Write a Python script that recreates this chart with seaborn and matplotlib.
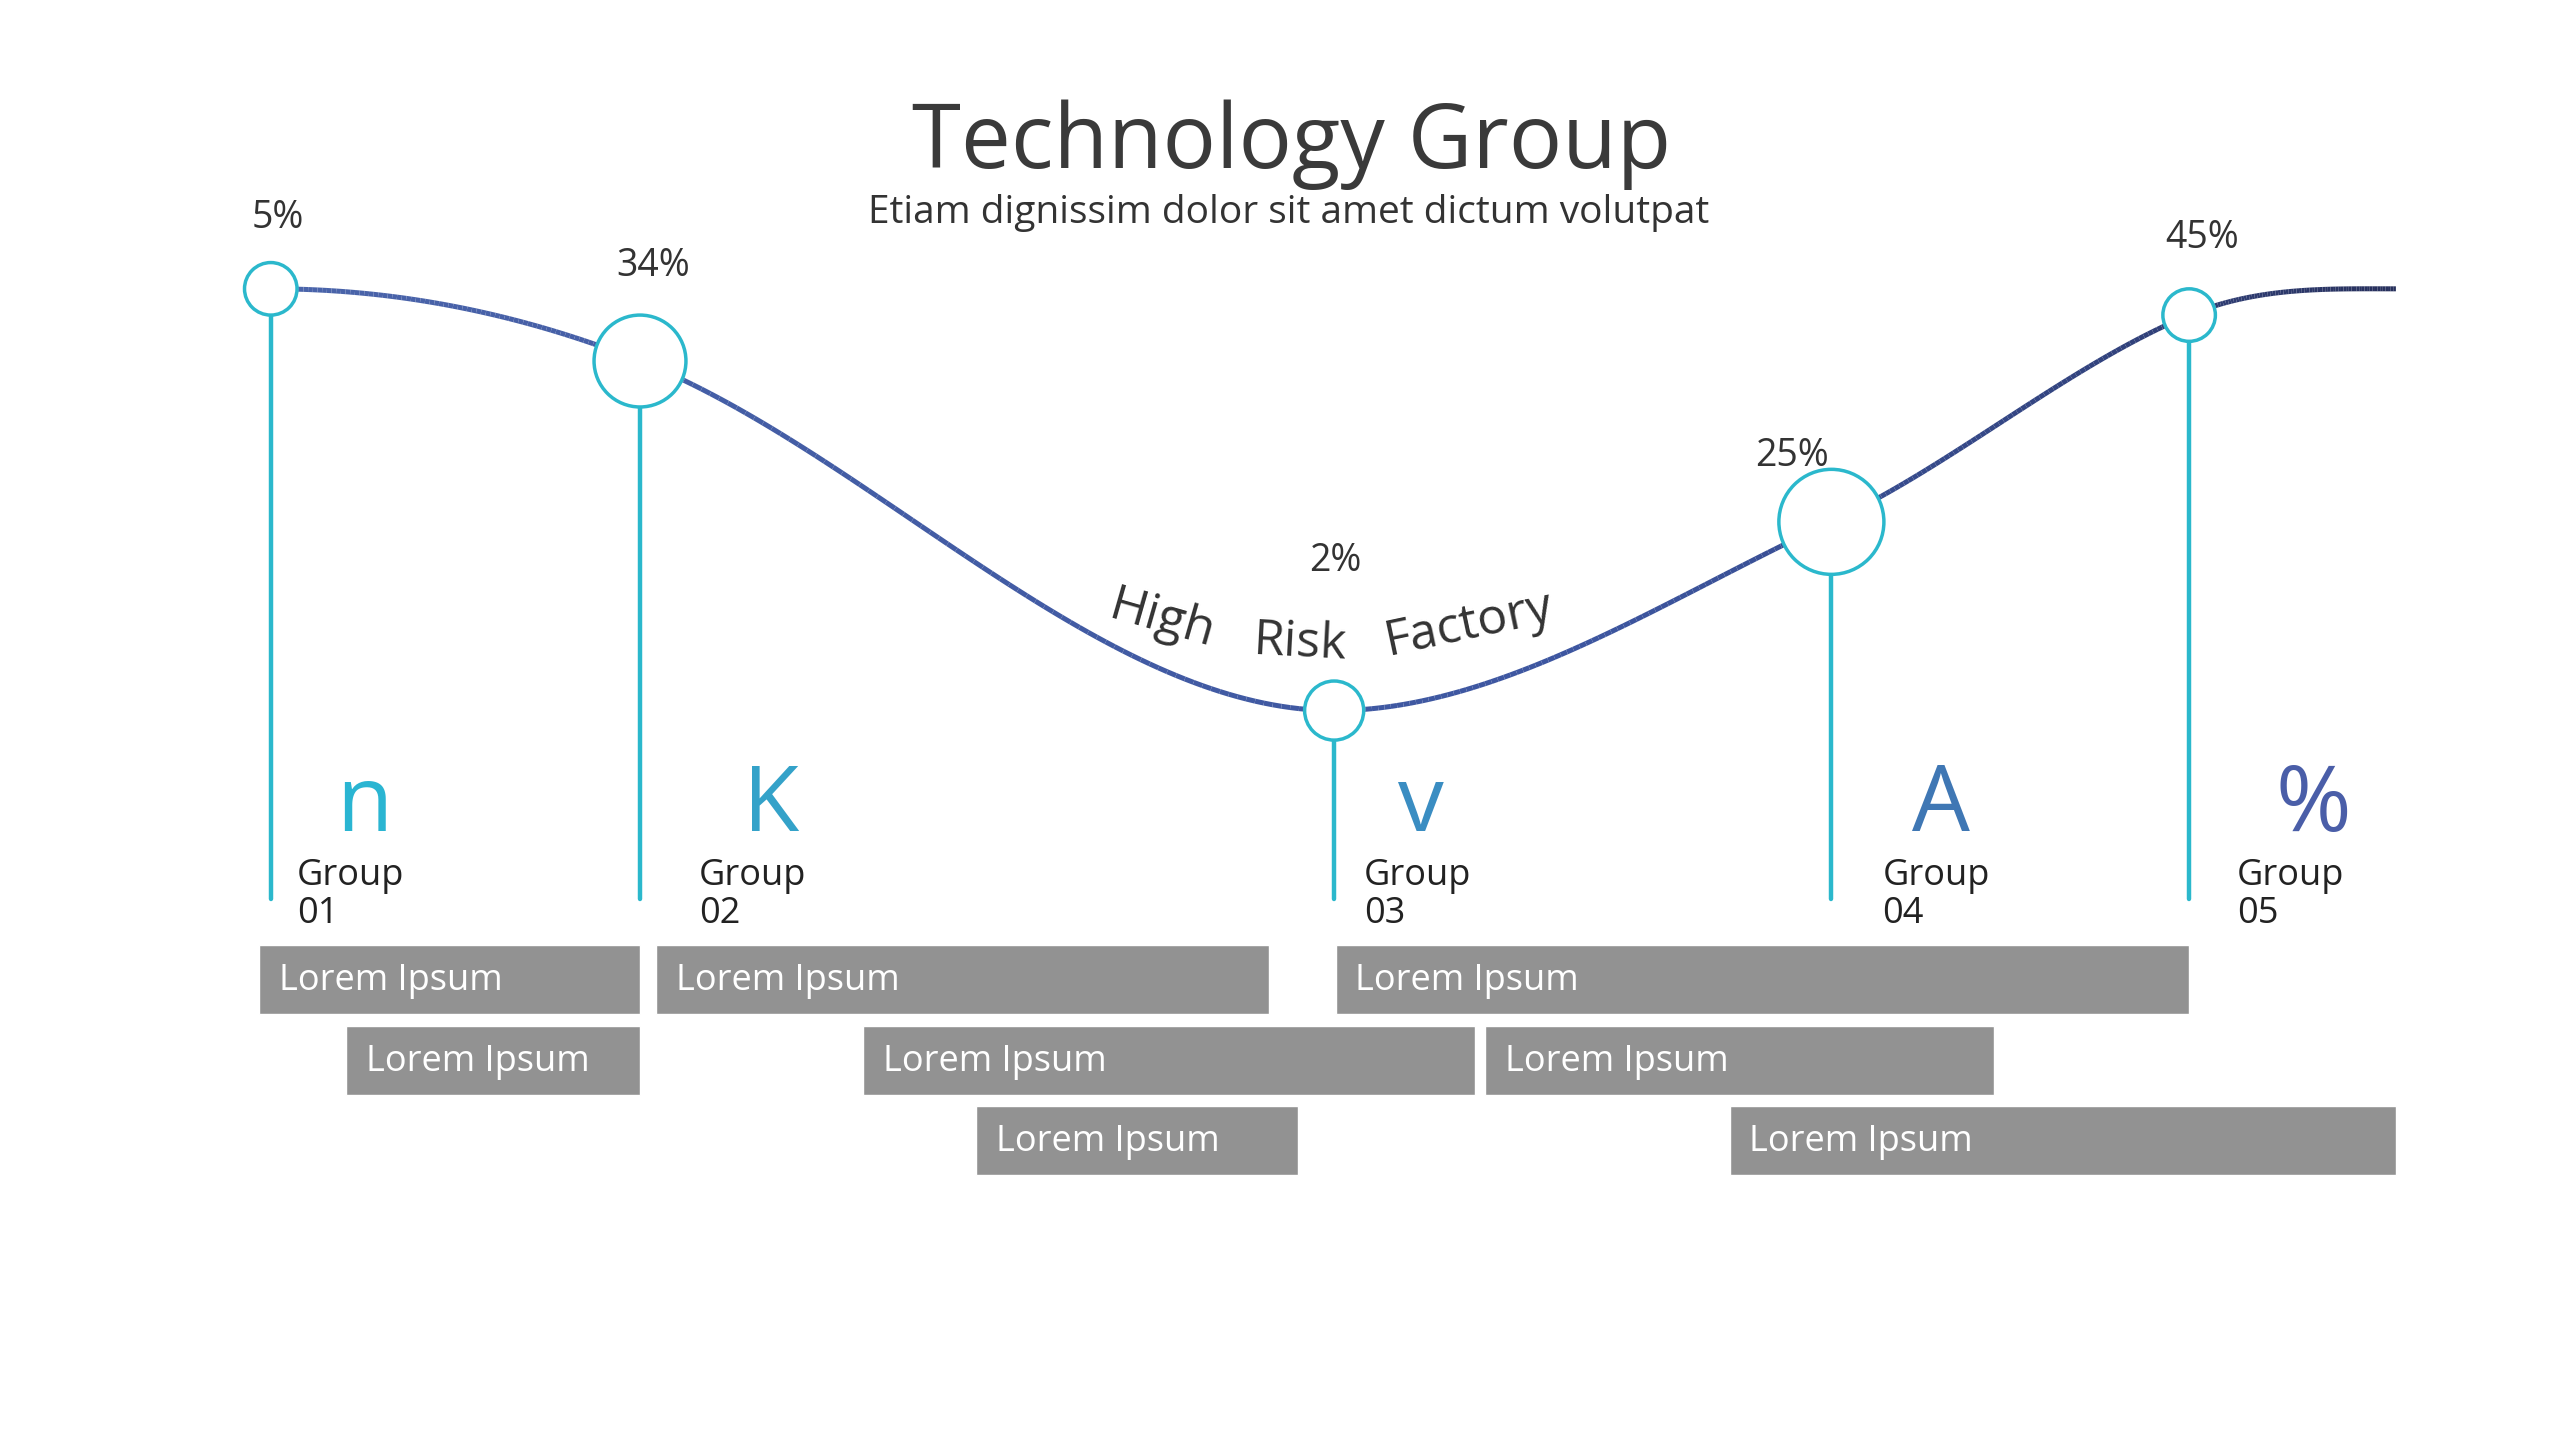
import numpy as np
import matplotlib
matplotlib.use("Agg")
import matplotlib.pyplot as plt
import seaborn as sns
import pandas as pd
from matplotlib.patches import Circle
from matplotlib.collections import LineCollection
from matplotlib.colors import LinearSegmentedColormap

# ---- data ----
groups = ["Group\n01", "Group\n02", "Group\n03", "Group\n04", "Group\n05"]
percents = ["5%", "34%", "2%", "25%", "45%"]
icons = ["n", "K", "v", "A", "%"]
point_x = [165, 390, 813, 1116, 1334]
point_y = [176, 220, 433, 318, 192]
radius = [16, 28, 18, 32, 16]
curve_end = (1460, 176)
bar_labels = ["Lorem Ipsum"] * 8
bar_left = [158, 400, 814, 211, 526, 905, 595, 1054]
bar_right = [390, 773, 1334, 390, 899, 1215, 791, 1460]
bar_row = [0, 0, 0, 1, 1, 1, 2, 2]

sns.set_theme(style="white")
plt.rcParams['font.family'] = ['Open Sans', 'DejaVu Sans']

fig = plt.figure(figsize=(25.6, 14.4), dpi=100)
ax = fig.add_axes([0, 0, 1, 1])
ax.set_xlim(0, 1560)
ax.set_ylim(877.5, 0)
ax.axis('off')

# smooth curve (cubic Hermite through points, flat tangents at extremes)
kx = point_x + [curve_end[0]]
ky = point_y + [curve_end[1]]
slopes = [0, None, 0, None, None, 0]
for i in range(len(kx)):
    if slopes[i] is None:
        slopes[i] = (ky[i+1]-ky[i-1])/(kx[i+1]-kx[i-1])
xs, ys = [], []
for i in range(len(kx)-1):
    h = kx[i+1]-kx[i]
    t = np.linspace(0, 1, 80)
    h00 = 2*t**3-3*t**2+1; h10 = t**3-2*t**2+t; h01 = -2*t**3+3*t**2; h11 = t**3-t**2
    xs.extend(kx[i]+t*h); ys.extend(h00*ky[i]+h10*h*slopes[i]+h01*ky[i+1]+h11*h*slopes[i+1])
xs = np.array(xs); ys = np.array(ys)
pts = np.column_stack([xs, ys]).reshape(-1, 1, 2)
segs = np.concatenate([pts[:-1], pts[1:]], axis=1)
cmap = LinearSegmentedColormap.from_list("c", ["#4a64aa", "#3d56a0", "#27305c"])
lc = LineCollection(segs, cmap=cmap, linewidth=3.6, zorder=2)
lc.set_array(np.linspace(0, 1, len(segs)))
ax.add_collection(lc)

cyan = "#2bb8cc"
for x, y, r, p in zip(point_x, point_y, radius, percents):
    ax.add_patch(Circle((x, y), r, facecolor="white", edgecolor=cyan, lw=2.5, zorder=3))
    ax.plot([x, x], [y + r, 548], color=cyan, lw=3.2, zorder=1)
label_pos = [(169, 133), (398, 162), (814, 342), (1092, 278), (1342, 145)]
for (lx, ly), p in zip(label_pos, percents):
    ax.text(lx, ly, p, fontsize=27, color="#333333", ha="center", va="center")

icon_colors = ["#2ab5d2", "#34a2c9", "#3a8dc2", "#3f77b4", "#4a5ea8"]
icon_x = [222, 470, 866, 1183, 1410]
group_x = [181, 426, 831, 1147, 1363]
for ix, gx, ic, g, c in zip(icon_x, group_x, icons, groups, icon_colors):
    ax.text(ix, 492, ic, fontsize=66, color=c, ha="center", va="center")
    ax.text(gx, 523, g, fontsize=26, color="#222222", ha="left", va="top", linespacing=1.05)

# bars
df = pd.DataFrame({"left": bar_left, "right": bar_right, "row": bar_row, "label": bar_labels})
row_y = [597, 646, 695]
for _, r in df.iterrows():
    y = row_y[r["row"]]
    ax.barh(y, r["right"] - r["left"], left=r["left"], height=42, color="#929292", zorder=4)
    ax.text(r["left"] + 12, y + 1, r["label"], fontsize=26, color="white", va="center", ha="left", zorder=5)

ax.text(787, 88, "Technology Group", fontsize=64, color="#3a3a3a", ha="center", va="center")
ax.text(785, 130, "Etiam dignissim dolor sit amet dictum volutpat", fontsize=28, color="#333333", ha="center", va="center")

for w, (x, y, rot) in zip(["High", "Risk", "Factory"], [(708, 378, -16), (792, 392, -3), (895, 381, 12)]):
    ax.text(x, y, w, fontsize=36, color="#333333", ha="center", va="center", rotation=rot)

fig.savefig("out.png", dpi=100, facecolor="white")
